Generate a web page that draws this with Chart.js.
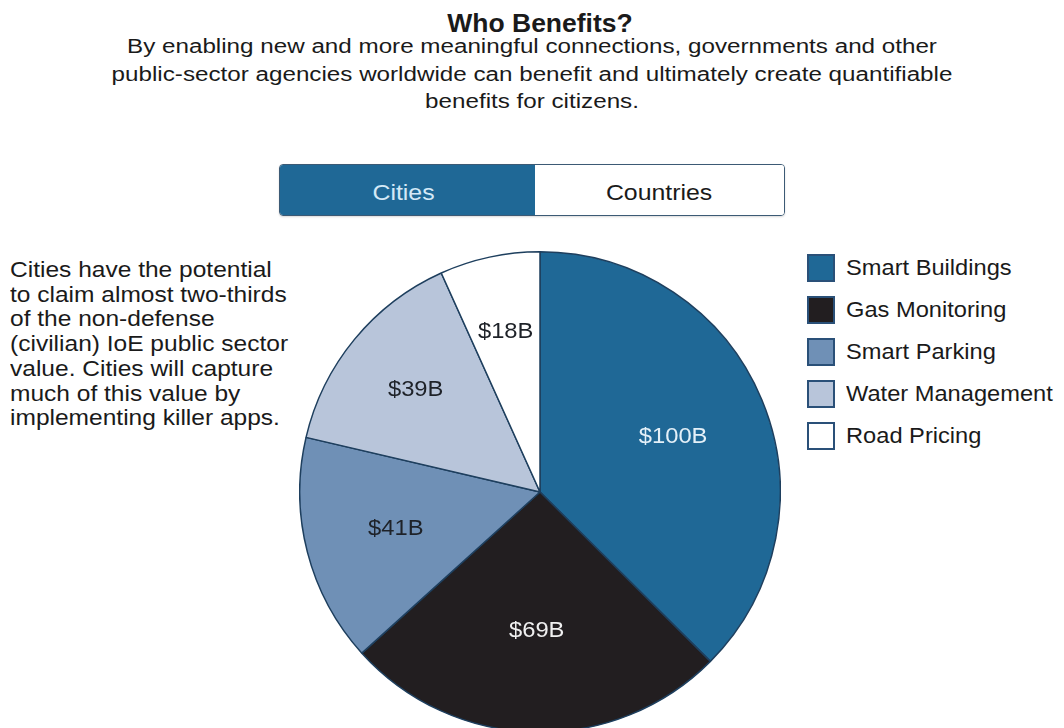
<!DOCTYPE html>
<html>
<head>
<meta charset="utf-8">
<script src="https://cdn.jsdelivr.net/npm/chart.js@4"></script>
<style>
  html, body { margin: 0; padding: 0; background: #fff; }
  body { width: 1064px; height: 728px; overflow: hidden; position: relative; font-family: "Liberation Sans", Arial, Helvetica, sans-serif; color: #1a1a1a; }
  #title { position: absolute; left: 0; width: 1080px; top: 8px; text-align: center; font-weight: bold; font-size: 26.5px; line-height: 30px; }
  #subtitle { position: absolute; left: -8px; width: 1080px; top: 33px; text-align: center; font-size: 20px; line-height: 27.5px; transform: scaleX(1.21); transform-origin: 540px 0; }
  #toggle { position: absolute; left: 279px; top: 164px; width: 504px; height: 50px; border: 1.5px solid #3c5a75; border-radius: 4px; overflow: hidden; display: flex; box-shadow: 0 1px 2px rgba(0,0,0,0.15); }
  #toggle div { flex: none; display: flex; align-items: center; justify-content: center; font-size: 22px; padding-top: 6px; box-sizing: border-box; }
  #toggle span { display: inline-block; transform: scaleX(1.13); }
  #tCities { width: 255px; background: #1f6896; color: #d4e9f7; padding-right: 8px; }
  #tCountries { width: 249px; background: #fff; color: #1a1a1a; }
  #note { position: absolute; left: 10px; top: 258px; width: 300px; font-size: 22.5px; line-height: 24.7px; transform: scaleX(1.09); transform-origin: 0 0; }
  #legend { position: absolute; left: 807px; top: 247px; }
  .li { display: flex; align-items: center; height: 42px; }
  .sw { width: 24px; height: 24px; border: 2px solid #2a5078; box-sizing: content-box; margin-right: 11px; }
  .lt { font-size: 21.5px; transform: scaleX(1.1); transform-origin: 0 50%; white-space: nowrap; }
  #pieBox { position: absolute; left: 299px; top: 251px; width: 482px; height: 482px; }
</style>
</head>
<body>
<div id="title">Who Benefits?</div>
<div id="subtitle">By enabling new and more meaningful connections, governments and other<br>public-sector agencies worldwide can benefit and ultimately create quantifiable<br>benefits for citizens.</div>
<div id="toggle"><div id="tCities"><span>Cities</span></div><div id="tCountries"><span>Countries</span></div></div>
<div id="note">Cities have the potential<br>to claim almost two-thirds<br>of the non-defense<br>(civilian) IoE public sector<br>value. Cities will capture<br>much of this value by<br>implementing killer apps.</div>
<div id="legend"></div>
<div id="pieBox"><canvas id="pie"></canvas></div>
<script>
const categories = ["Smart Buildings", "Gas Monitoring", "Smart Parking", "Water Management", "Road Pricing"];
const values = [100, 69, 41, 39, 18];
const valueLabels = ["$100B", "$69B", "$41B", "$39B", "$18B"];
const sliceColors = ["#1f6896", "#221e20", "#6f90b6", "#b8c5da", "#ffffff"];
const labelColors = ["#e4f0f8", "#f0f0f0", "#1e2228", "#1e2228", "#1e2228"];
const labelRadius = [0.6, 0.58, 0.62, 0.67, 0.68];

// HTML legend
const leg = document.getElementById('legend');
categories.forEach((c, i) => {
  const row = document.createElement('div'); row.className = 'li';
  const sw = document.createElement('div'); sw.className = 'sw'; sw.style.background = sliceColors[i];
  const t = document.createElement('div'); t.className = 'lt'; t.textContent = c;
  row.appendChild(sw); row.appendChild(t); leg.appendChild(row);
});

const sliceLabels = {
  id: 'sliceLabels',
  afterDatasetsDraw(chart) {
    const ctx = chart.ctx;
    const meta = chart.getDatasetMeta(0);
    ctx.save();
    ctx.font = '22px "Liberation Sans", Arial, sans-serif';
    ctx.textAlign = 'center';
    ctx.textBaseline = 'middle';
    meta.data.forEach((arc, i) => {
      const p = arc.getProps(['x', 'y', 'startAngle', 'endAngle', 'outerRadius'], true);
      const mid = (p.startAngle + p.endAngle) / 2;
      const r = p.outerRadius * labelRadius[i];
      const lx = p.x + Math.cos(mid) * r, ly = p.y + Math.sin(mid) * r;
      ctx.save();
      ctx.translate(lx, ly);
      ctx.scale(1.08, 1);
      ctx.fillStyle = labelColors[i];
      ctx.fillText(valueLabels[i], 0, 0);
      ctx.restore();
    });
    ctx.restore();
  }
};

new Chart(document.getElementById('pie'), {
  type: 'pie',
  data: {
    labels: categories,
    datasets: [{
      data: values,
      backgroundColor: sliceColors,
      borderColor: '#1e3f5e',
      borderWidth: 1.5
    }]
  },
  options: {
    responsive: true,
    maintainAspectRatio: false,
    animation: false,
    layout: { padding: 0 },
    plugins: { legend: { display: false }, tooltip: { enabled: false } }
  },
  plugins: [sliceLabels]
});
</script>
</body>
</html>
